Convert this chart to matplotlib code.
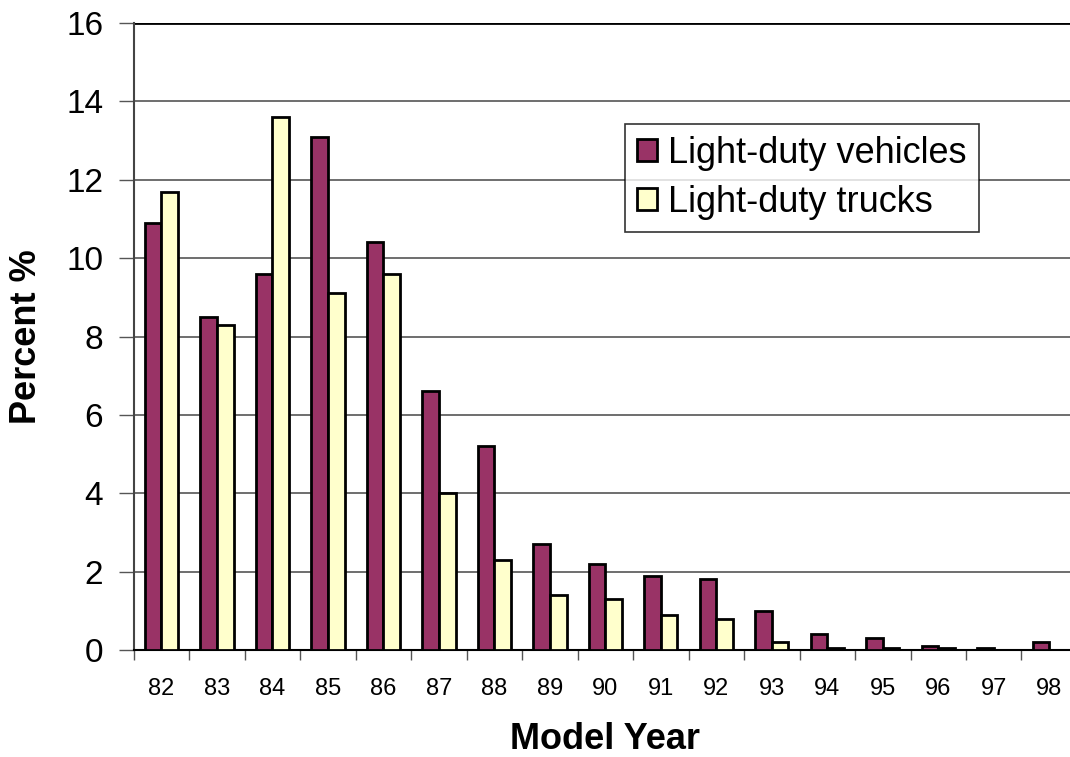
import numpy as np
import matplotlib
matplotlib.use("Agg")
import matplotlib.pyplot as plt

plt.rcParams['font.family'] = ['Liberation Sans', 'DejaVu Sans']

# 车型年份与占比数据
years = ['82', '83', '84', '85', '86', '87', '88', '89', '90',
         '91', '92', '93', '94', '95', '96', '97', '98']
vehicles = [10.9, 8.5, 9.6, 13.1, 10.4, 6.6, 5.2, 2.7, 2.2,
            1.9, 1.8, 1.0, 0.4, 0.3, 0.1, 0.05, 0.2]
trucks = [11.7, 8.3, 13.6, 9.1, 9.6, 4.0, 2.3, 1.4, 1.3,
          0.9, 0.8, 0.2, 0.05, 0.05, 0.05, 0.0, 0.0]

fig = plt.figure(figsize=(10.7, 7.57), dpi=100)
ax = fig.add_axes([0.125, 0.1413, 0.8815, 0.8283])

x = np.arange(len(years))
w = 0.3
ax.bar(x - w / 2, vehicles, w, color='#993366', edgecolor='black', linewidth=2,
       label='Light-duty vehicles', zorder=3)
ax.bar(x + w / 2, trucks, w, color='#FFFFCC', edgecolor='black', linewidth=2,
       label='Light-duty trucks', zorder=3)

ax.set_xlim(-0.5, len(years) - 0.5)
ax.set_ylim(0, 16)
ax.set_yticks(range(0, 17, 2))
ax.yaxis.grid(True, color='#555555', linewidth=1.2, zorder=0)

# 类别边界刻度
ax.set_xticks(np.arange(-0.5, len(years), 1))
ax.set_xticklabels([])
ax.set_xticks(x, minor=True)
ax.set_xticklabels(years, minor=True, fontsize=17)
ax.tick_params(axis='x', which='major', direction='out', length=7, width=1, color='#555555')
ax.tick_params(axis='x', which='minor', length=0, pad=20)
ax.tick_params(axis='y', direction='out', length=11, width=1, color='#555555',
               labelsize=24, pad=11)

for s in ['top', 'right']:
    ax.spines[s].set_visible(False)
ax.spines['left'].set_color('#444444')
ax.spines['left'].set_linewidth(1.5)
ax.spines['bottom'].set_color('black')
ax.spines['bottom'].set_linewidth(1.5)
ax.axhline(16, color='black', linewidth=2, zorder=2)

ax.set_xlabel('Model Year', fontsize=26, fontweight='bold', labelpad=16)
ax.set_ylabel('Percent %', fontsize=26, fontweight='bold', labelpad=16)

leg = ax.legend(loc='upper left', bbox_to_anchor=(0.521, 0.839), fontsize=26,
                frameon=True, fancybox=False, handlelength=0.55, handleheight=0.55,
                handletextpad=0.33, borderpad=0.32, labelspacing=0.4, borderaxespad=0)
leg.get_frame().set_edgecolor('black')
leg.get_frame().set_linewidth(1.2)

fig.savefig('out.png', dpi=100)
